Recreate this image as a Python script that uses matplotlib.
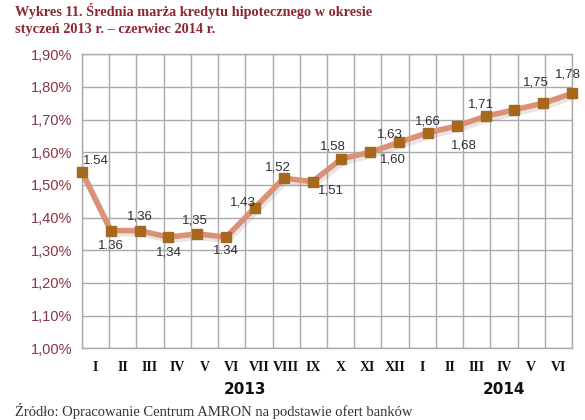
import numpy as np
import matplotlib
matplotlib.use("Agg")
import matplotlib.pyplot as plt
import matplotlib.transforms as mtransforms

# data
months = ['I', 'II', 'III', 'IV', 'V', 'VI', 'VII', 'VIII', 'IX', 'X', 'XI', 'XII',
          'I', 'II', 'III', 'IV', 'V', 'VI']
years = ['2013', '2014']
margin = [1.54, 1.36, 1.36, 1.34, 1.35, 1.34, 1.43, 1.52, 1.51, 1.58, 1.60, 1.63,
          1.66, 1.68, 1.71, 1.73, 1.75, 1.78]
point_labels = ['1.54', '1.36', '1,36', '1,34', '1,35', '1.34', '1,43', '1,52', '1,51',
                '1,58', '1,60', '1,63', '1,66', '1,68', '1,71', '', '1,75', '1,78']
yticks = np.arange(1.0, 1.91, 0.1)

# label offsets in pixels (dx, dy), dy positive = up
label_off = [(14, 11), (0, -15), (0, 14), (0, -15), (-2, 13), (0, -14), (-12, 5),
             (-6, 11), (18, -9), (-9, 12), (23, -7), (-9, 8), (0, 11), (7, -19),
             (-5, 12), (0, 0), (-7, 21), (-4, 19)]

title_col = '#8c2636'
tick_col = '#8a3444'
line_col = '#da9176'
mark_col = '#a5681d'
grid_col = '#a9a9a9'

fig = plt.figure(figsize=(5.85, 4.2), dpi=100)
ax = fig.add_axes([0.140, 0.171, 0.838, 0.700])

# category grid (18 months)
n = len(months)
ax.set_xlim(0, n)
ax.set_ylim(1.0, 1.9)
ax.set_xticks(np.arange(n + 1))
ax.set_xticklabels([])
ax.set_yticks(yticks)
ax.set_yticklabels([('%.2f' % v).replace('.', ',') + '%' for v in yticks],
                   color=tick_col, fontsize=10.5, family='Liberation Sans')
ax.grid(True, color=grid_col, linewidth=1.0)
ax.tick_params(length=0, pad=7)
ax.tick_params(axis='x', pad=0)
for s in ax.spines.values():
    s.set_color(grid_col)
    s.set_linewidth(1.0)

for i, m in enumerate(months):
    ax.text(i + 0.5, -0.065, m, transform=ax.get_xaxis_transform(), ha='center', va='center',
            fontsize=10, fontweight='bold', family='Liberation Serif', color='#111111')
ax.text(6, -0.14, years[0], transform=ax.get_xaxis_transform(), ha='center', va='center',
        fontsize=11, fontweight='bold', family='Liberation Sans Narrow', color='#111111')
ax.text(15.5, -0.14, years[1], transform=ax.get_xaxis_transform(), ha='center', va='center',
        fontsize=11, fontweight='bold', family='Liberation Sans Narrow', color='#111111')

# line on its own x scale: points span edge to edge
ax2 = ax.twiny()
ax2.set_xlim(0, n - 1)
ax2.set_xticks([])
for s in ax2.spines.values():
    s.set_visible(False)
x = np.arange(n)
shadow = mtransforms.offset_copy(ax2.transData, fig=fig, x=2, y=-3, units='dots')
ax2.plot(x, margin, color='#777777', lw=4.5, alpha=0.18, transform=shadow,
         solid_joinstyle='round', clip_on=False)
ax2.plot(x, margin, color=line_col, lw=4.0, solid_joinstyle='round', clip_on=False, zorder=3)
ax2.plot(x, margin, ls='none', marker='s', ms=6.5, mfc=mark_col, mec=mark_col,
         clip_on=False, zorder=4)

for xi, v, lab, off in zip(x, margin, point_labels, label_off):
    if lab:
        ax2.annotate(lab, (xi, v), xytext=off, textcoords='offset pixels', ha='center',
                     va='center', fontsize=9.5, color='#2e2e3a', family='Liberation Sans',
                     zorder=5)

fig.text(15 / 585, 1 - 11 / 420, 'Wykres 11. Średnia marża kredytu hipotecznego w okresie',
         fontsize=10.3, fontweight='bold', family='Liberation Serif', color=title_col, va='center')
fig.text(15 / 585, 1 - 29 / 420, 'styczeń 2013 r. – czerwiec 2014 r.',
         fontsize=10.3, fontweight='bold', family='Liberation Serif', color=title_col, va='center')
fig.text(15 / 585, 1 - 411 / 420, 'Źródło: Opracowanie Centrum AMRON na podstawie ofert banków',
         fontsize=10.5, family='Liberation Serif', color='#333333', va='center')

fig.savefig('out.png', dpi=100)
